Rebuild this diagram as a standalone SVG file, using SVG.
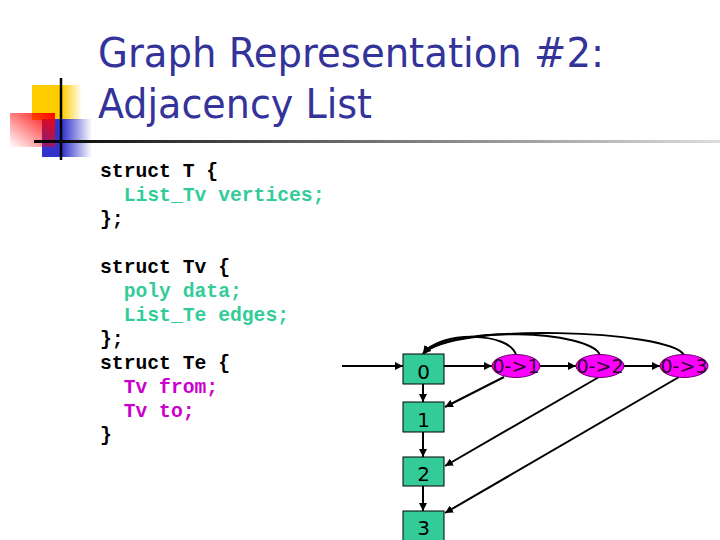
<svg xmlns="http://www.w3.org/2000/svg" width="720" height="540" viewBox="0 0 720 540">
<defs>
<style>
.title{font-family:"DejaVu Sans","Liberation Sans",sans-serif;font-size:40px;fill:#333399}
.code{font-family:"Liberation Mono","Courier New",monospace;font-size:19.7px;font-weight:bold;white-space:pre}
.k{fill:#000}
.t{fill:#33CC99}
.m{fill:#CC00CC}
.box{fill:#33CC99;stroke:#000;stroke-width:1}
.ell{fill:#FF00FF;stroke:#660066;stroke-width:1}
.lbl{font-family:"DejaVu Sans","Liberation Sans",sans-serif;font-size:20px;fill:#000;text-anchor:middle}
.elbl{font-family:"DejaVu Sans","Liberation Sans",sans-serif;font-size:19px;fill:#330033;text-anchor:middle}
.edge{fill:none;stroke:#000;stroke-width:2}
</style>
<marker id="ah" viewBox="0 0 10 10" refX="10" refY="5" markerWidth="4" markerHeight="4" orient="auto" markerUnits="strokeWidth">
<path d="M0,0 L10,5 L0,10 z" fill="#000"/>
</marker>
<linearGradient id="gY" x1="0" x2="1" y1="0" y2="0">
<stop offset="0" stop-color="#FFCC00"/><stop offset="0.6" stop-color="#FFCC00"/><stop offset="1" stop-color="#FFCC00" stop-opacity="0"/>
</linearGradient>
<linearGradient id="gB" x1="0" x2="1" y1="0" y2="0">
<stop offset="0" stop-color="#3333CC"/><stop offset="0.4" stop-color="#3333CC"/><stop offset="1" stop-color="#3333CC" stop-opacity="0"/>
</linearGradient>
<linearGradient id="gR" x1="1" x2="0" y1="0" y2="1">
<stop offset="0" stop-color="#FF0000"/><stop offset="1" stop-color="#FF0000" stop-opacity="0"/>
</linearGradient>
<linearGradient id="gL" x1="0" x2="1" y1="0" y2="0">
<stop offset="0" stop-color="#000"/><stop offset="0.2" stop-color="#333"/><stop offset="1" stop-color="#ddd"/>
</linearGradient>
</defs>
<rect width="720" height="540" fill="#fff"/>
<g id="logo">
<rect x="32" y="85" width="50" height="35" fill="url(#gY)"/>
<rect x="42" y="119" width="50" height="38" fill="url(#gB)"/>
<rect x="10" y="113" width="45" height="34" fill="url(#gR)"/>
<line x1="61" y1="78" x2="61" y2="160" stroke="#000" stroke-width="2.5"/>
<rect x="34" y="140" width="686" height="3" fill="url(#gL)"/>
</g>
<g id="title">
<text class="title" x="98" y="67" textLength="506" lengthAdjust="spacingAndGlyphs">Graph Representation #2:</text>
<text class="title" x="98" y="118" textLength="274" lengthAdjust="spacingAndGlyphs">Adjacency List</text>
</g>
<g id="code">
<text class="code k" x="100" y="177">struct T {</text>
<text class="code t" x="100" y="201">  List_Tv vertices;</text>
<text class="code k" x="100" y="225">};</text>
<text class="code k" x="100" y="273">struct Tv {</text>
<text class="code t" x="100" y="297">  poly data;</text>
<text class="code t" x="100" y="321">  List_Te edges;</text>
<text class="code k" x="100" y="345">};</text>
<text class="code k" x="100" y="369">struct Te {</text>
<text class="code m" x="100" y="393">  Tv from;</text>
<text class="code m" x="100" y="417">  Tv to;</text>
<text class="code k" x="100" y="441">}</text>
</g>
<g id="connectors">
<line class="edge" x1="342" y1="366" x2="403" y2="366" marker-end="url(#ah)"/>
<line class="edge" x1="444" y1="366" x2="492" y2="366" marker-end="url(#ah)"/>
<line class="edge" x1="540" y1="366" x2="576" y2="366" marker-end="url(#ah)"/>
<line class="edge" x1="624" y1="366" x2="660" y2="366" marker-end="url(#ah)"/>
<line class="edge" x1="423" y1="384" x2="423" y2="402" marker-end="url(#ah)"/>
<line class="edge" x1="423" y1="432" x2="423" y2="457" marker-end="url(#ah)"/>
<line class="edge" x1="423" y1="486" x2="423" y2="511" marker-end="url(#ah)"/>
<line class="edge" x1="504" y1="377" x2="445" y2="407" marker-end="url(#ah)"/>
<line class="edge" x1="599" y1="377" x2="445" y2="466" marker-end="url(#ah)"/>
<line class="edge" x1="679" y1="377" x2="445" y2="513" marker-end="url(#ah)"/>
<path class="edge" d="M516,355 C510,332 440,330 423,354" marker-end="url(#ah)"/>
<path class="edge" d="M600,355 C590,330 450,325 423,354" marker-end="url(#ah)"/>
<path class="edge" d="M684,355 C670,330 450,322 423,354" marker-end="url(#ah)"/>
</g>
<g id="v0"><rect class="box" x="403" y="354" width="41" height="30"/><text class="lbl" x="423.5" y="379">0</text></g>
<g id="v1"><rect class="box" x="403" y="402" width="41" height="30"/><text class="lbl" x="423.5" y="427">1</text></g>
<g id="v2"><rect class="box" x="403" y="457" width="41" height="29"/><text class="lbl" x="423.5" y="481">2</text></g>
<g id="v3"><rect class="box" x="403" y="511" width="41" height="31"/><text class="lbl" x="423.5" y="535">3</text></g>
<g id="e01"><ellipse class="ell" cx="516" cy="366" rx="24" ry="11.5"/><text class="elbl" x="516" y="373">0-&gt;1</text></g>
<g id="e02"><ellipse class="ell" cx="600" cy="366" rx="24" ry="11.5"/><text class="elbl" x="600" y="373">0-&gt;2</text></g>
<g id="e03"><ellipse class="ell" cx="684" cy="366" rx="24" ry="11.5"/><text class="elbl" x="684" y="373">0-&gt;3</text></g>
</svg>
